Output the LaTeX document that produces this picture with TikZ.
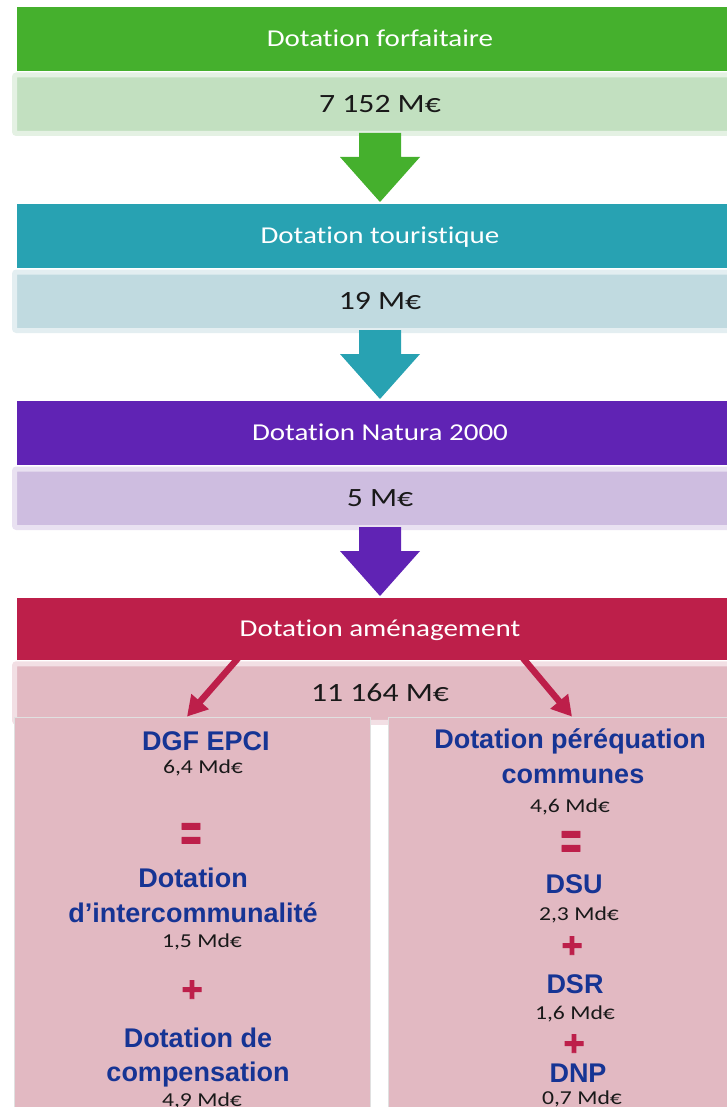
\documentclass[tikz,border=0pt]{standalone}
\usepackage{fontspec}
\setmainfont{Carlito}[Ligatures=NoCommon, FakeStretch=1.2]
\newfontfamily\arialfont{Liberation Sans}
\newfontfamily\signefont{Liberation Sans Bold}[FakeBold=2.5]
\usepackage{tikz}
\usetikzlibrary{arrows.meta,calc}

\definecolor{vert}{RGB}{69,176,45}
\definecolor{vertclair}{RGB}{194,224,192}
\definecolor{canard}{RGB}{40,162,178}
\definecolor{canardclair}{RGB}{192,218,224}
\definecolor{violetfonce}{RGB}{96,35,180}
\definecolor{violetclair}{RGB}{206,189,224}
\definecolor{framboise}{RGB}{189,31,74}
\definecolor{roseclair}{RGB}{226,185,194}
\definecolor{bleunuit}{RGB}{22,52,148}

\tikzset{
  entete/.style={minimum width=726pt, minimum height=64pt, inner sep=0pt,
    text=white, text height=15.5pt, text depth=0pt,
    font=\fontsize{24.2}{28}\selectfont},
  montant/.style={minimum width=731pt, minimum height=58.5pt, inner sep=0pt,
    rounded corners=2pt, line width=5pt, text=black!90,
    text height=16.5pt, text depth=0pt, font=\fontsize{26.4}{30}\selectfont},
  colonne/.style={fill=roseclair, draw=black!12, line width=0.8pt,
    inner sep=0pt, minimum height=403pt},
  libelle/.style={text=bleunuit, anchor=base, inner sep=0pt,
    font=\arialfont\bfseries\fontsize{27}{30}\selectfont},
  somme/.style={text=black!90, anchor=base, inner sep=0pt,
    font=\fontsize{19.7}{22}\selectfont},
  signe/.style={text=framboise, inner sep=0pt, font=\signefont\fontsize{36}{40}\selectfont},
  fleche/.style={draw=framboise, line width=6.5pt,
    -{Triangle[length=20pt,width=22pt]}},
}

% grosse fleche vers le bas sous un montant
\newcommand{\flechebas}[2]{%
  \fill[#2] ($(#1.south)+(-21,-3)$) -- ++(0,24) -- ++(-19,0) -- ++(40,45)
    -- ++(40,-45) -- ++(-19,0) -- ++(0,-24) -- cycle;}
\newcommand{\egal}{\scalebox{1}[1.45]{=}}

\begin{document}
\begin{tikzpicture}[x=1pt,y=-1pt]
  \useasboundingbox (0,0) rectangle (726,1107);

  % dotation forfaitaire
  \node[montant, fill=vertclair, draw=vertclair!45!white] (vForf) at (380,104.25) {7 152 M€};
  \node[entete, fill=vert] (hForf) at (380,39) {Dotation forfaitaire};
  \flechebas{vForf}{vert}

  % dotation touristique
  \node[montant, fill=canardclair, draw=canardclair!45!white] (vTour) at (380,301.25) {19 M€};
  \node[entete, fill=canard] (hTour) at (380,236) {Dotation touristique};
  \flechebas{vTour}{canard}

  % dotation natura 2000
  \node[montant, fill=violetclair, draw=violetclair!45!white] (vNat) at (380,498.25) {5 M€};
  \node[entete, fill=violetfonce] (hNat) at (380,433) {Dotation Natura 2000};
  \flechebas{vNat}{violetfonce}

  % dotation amenagement
  \node[montant, fill=roseclair, draw=roseclair!45!white] (vAmen) at (380,693) {11 164 M€};
  \node[entete, fill=framboise, minimum height=62pt] (hAmen) at (380,629) {Dotation aménagement};

  \node[colonne, minimum width=356pt] (colG) at (192,918.5) {};
  \node[colonne, minimum width=364pt] (colD) at (570,918.5) {};

  \draw[fleche] ($(hAmen.south)+(-142,-2)$) -- ($(colG.north)+(-5,0)$);
  \draw[fleche] ($(hAmen.south)+(143,-2)$) -- ($(colD.north)+(2,0)$);

  % DGF EPCI
  \node[libelle] (lblEPCI) at (206,750) {DGF EPCI};
  \node[somme] (mtEPCI) at (203,773) {6,4 Md€};
  \node[signe] (egG) at (191,837) {\egal};
  \node[libelle] (lblInter) at (193,887) {Dotation};
  \node[libelle] (lblInter2) at (193,922) {d’intercommunalité};
  \node[somme] (mtInter) at (202,947) {1,5 Md€};
  \node[signe] (plusG) at (192,991) {+};
  \node[libelle] (lblComp) at (198,1047) {Dotation de};
  \node[libelle] (lblComp2) at (198,1081) {compensation};
  \node[somme] (mtComp) at (202,1106) {4,9 Md€};

  % dotation de perequation
  \node[libelle] (lblPereq) at (570,748) {Dotation péréquation};
  \node[libelle] (lblPereq2) at (573,783) {communes};
  \node[somme] (mtPereq) at (570,812) {4,6 Md€};
  \node[signe] (egD) at (571,845) {\egal};
  \node[libelle] (lblDSU) at (574,893) {DSU};
  \node[somme] (mtDSU) at (579,920) {2,3 Md€};
  \node[signe] (plusD) at (572,947) {+};
  \node[libelle] (lblDSR) at (575,993) {DSR};
  \node[somme] (mtDSR) at (575,1019) {1,6 Md€};
  \node[signe] (plusDD) at (574,1045) {+};
  \node[libelle] (lblDNP) at (578,1082) {DNP};
  \node[somme] (mtDNP) at (582,1104) {0,7 Md€};
\end{tikzpicture}
\end{document}
